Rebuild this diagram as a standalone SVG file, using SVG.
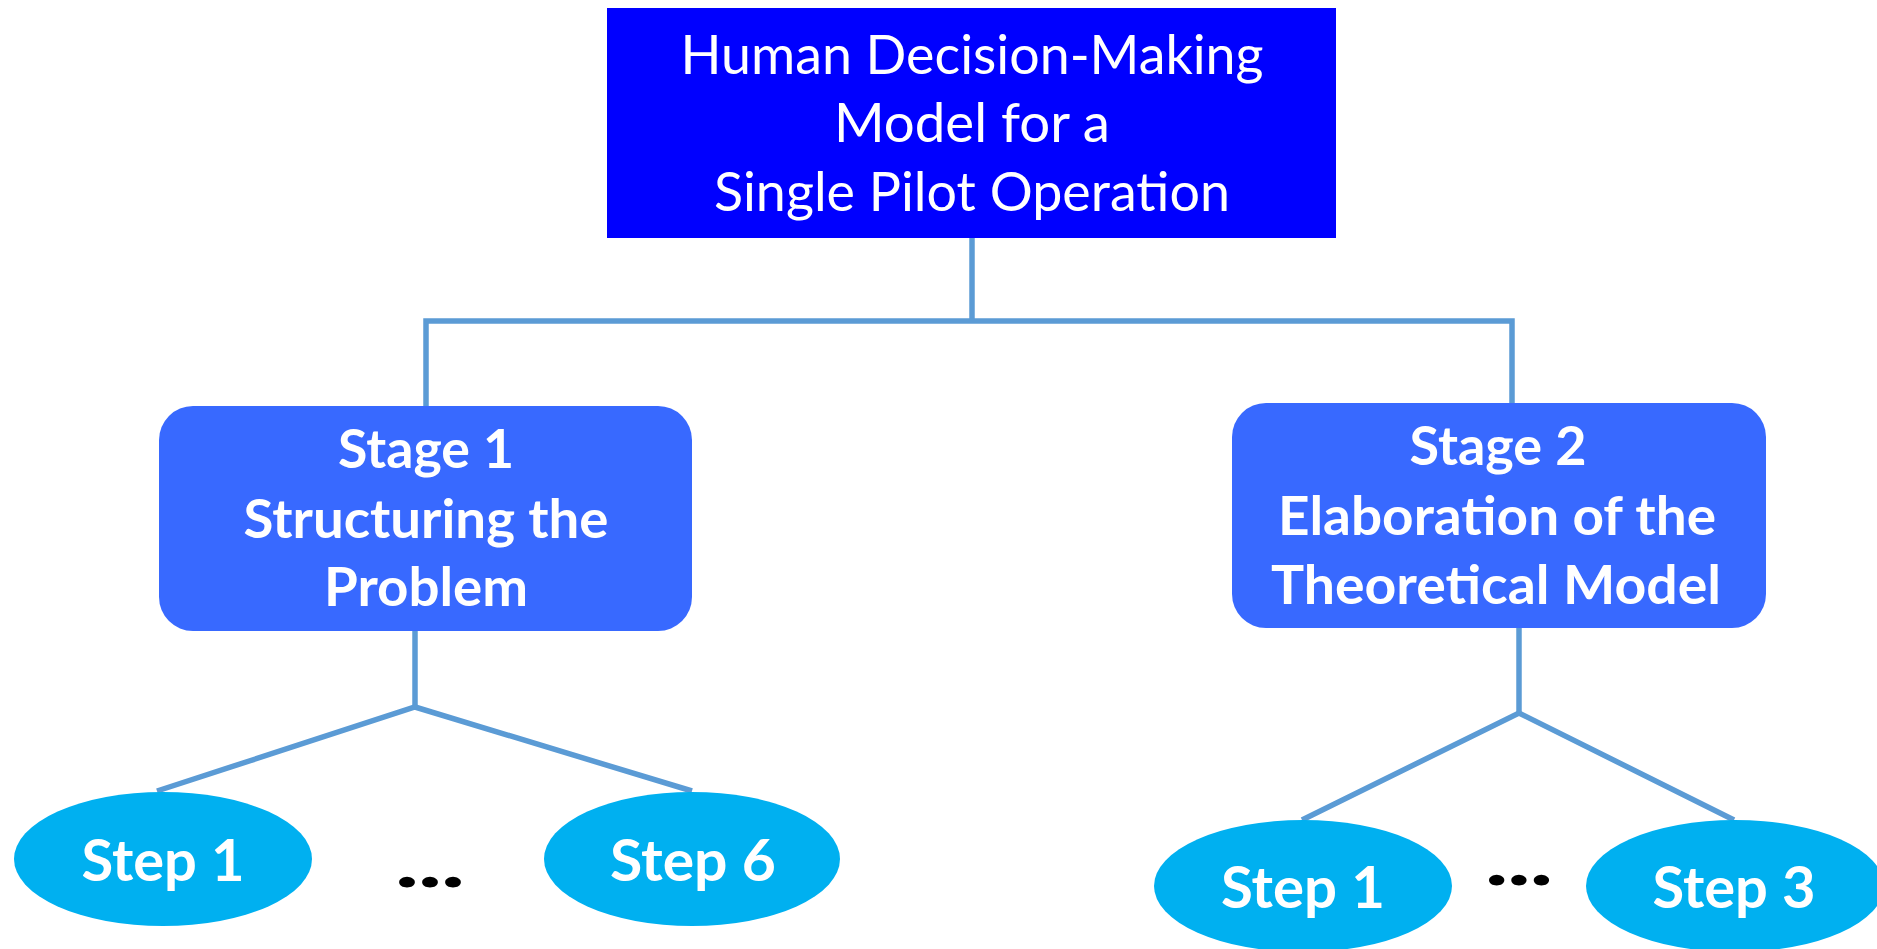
<svg xmlns="http://www.w3.org/2000/svg" width="1877" height="949" viewBox="0 0 1877 949">
  <style>
    .txt { font-family: Lato, "Open Sans", "Liberation Sans", sans-serif; fill: #ffffff; text-anchor: middle; }
    .title { font-size: 54px; font-weight: 400; }
    .stage { font-size: 54px; font-weight: 700; }
    .step { font-size: 57px; font-weight: 700; }
    .dots { font-family: Lato, "Liberation Sans", sans-serif; font-size: 66px; font-weight: 900; fill: #000000; text-anchor: middle; }
    .stagebox { fill: #3869FF; }
    .ellipse { fill: #00B0F0; }
    .conn { fill: none; stroke: #5B9BD5; stroke-width: 5.5; }
  </style>
  <rect width="1877" height="949" fill="#ffffff"/>

  <!-- connectors -->
  <g id="connectors" class="conn">
    <polyline points="972,238 972,321"/>
    <polyline points="426,406 426,321 1512,321 1512,403"/>
    <polyline points="415,631 415,707"/>
    <polyline points="157,791 415,707 692,791"/>
    <polyline points="1519,628 1519,713"/>
    <polyline points="1302,820 1519,713 1734,820"/>
  </g>

  <!-- root -->
  <g id="root">
    <rect x="607" y="8" width="729" height="230" fill="#0000FF"/>
    <text class="txt title" x="972" y="74" textLength="583" lengthAdjust="spacingAndGlyphs">Human Decision-Making</text>
    <text class="txt title" x="972" y="142" textLength="276" lengthAdjust="spacingAndGlyphs">Model for a</text>
    <text class="txt title" x="972" y="211" textLength="516" lengthAdjust="spacingAndGlyphs">Single Pilot Operation</text>
  </g>

  <!-- stage 1 -->
  <g id="stage1">
    <rect class="stagebox" x="159" y="406" width="533" height="225" rx="34" ry="34"/>
    <text class="txt stage" x="426" y="468" textLength="176" lengthAdjust="spacingAndGlyphs">Stage 1</text>
    <text class="txt stage" x="426" y="538" textLength="365" lengthAdjust="spacingAndGlyphs">Structuring the</text>
    <text class="txt stage" x="426" y="606" textLength="204" lengthAdjust="spacingAndGlyphs">Problem</text>
  </g>

  <!-- stage 2 -->
  <g id="stage2">
    <rect class="stagebox" x="1232" y="403" width="534" height="225" rx="34" ry="34"/>
    <text class="txt stage" x="1498" y="465" textLength="177" lengthAdjust="spacingAndGlyphs">Stage 2</text>
    <text class="txt stage" x="1497" y="535" textLength="438" lengthAdjust="spacingAndGlyphs">Elaboration of the</text>
    <text class="txt stage" x="1496" y="604" textLength="450" lengthAdjust="spacingAndGlyphs">Theoretical Model</text>
  </g>

  <!-- stage 1 steps -->
  <g id="s1-step1">
    <ellipse class="ellipse" cx="163" cy="859" rx="149" ry="67"/>
    <text class="txt step" x="163" y="881" textLength="163" lengthAdjust="spacingAndGlyphs">Step 1</text>
  </g>
  <g id="s1-dots">
    <text class="dots" x="430" y="887" textLength="69" lengthAdjust="spacingAndGlyphs">...</text>
  </g>
  <g id="s1-step6">
    <ellipse class="ellipse" cx="692" cy="859" rx="148" ry="67"/>
    <text class="txt step" x="693" y="881" textLength="166" lengthAdjust="spacingAndGlyphs">Step 6</text>
  </g>

  <!-- stage 2 steps -->
  <g id="s2-step1">
    <ellipse class="ellipse" cx="1303" cy="886" rx="149" ry="66"/>
    <text class="txt step" x="1303" y="908" textLength="164" lengthAdjust="spacingAndGlyphs">Step 1</text>
  </g>
  <g id="s2-dots">
    <text class="dots" x="1519" y="885" textLength="67" lengthAdjust="spacingAndGlyphs">...</text>
  </g>
  <g id="s2-step3">
    <ellipse class="ellipse" cx="1735" cy="886" rx="149" ry="66"/>
    <text class="txt step" x="1734" y="908" textLength="163" lengthAdjust="spacingAndGlyphs">Step 3</text>
  </g>
</svg>
